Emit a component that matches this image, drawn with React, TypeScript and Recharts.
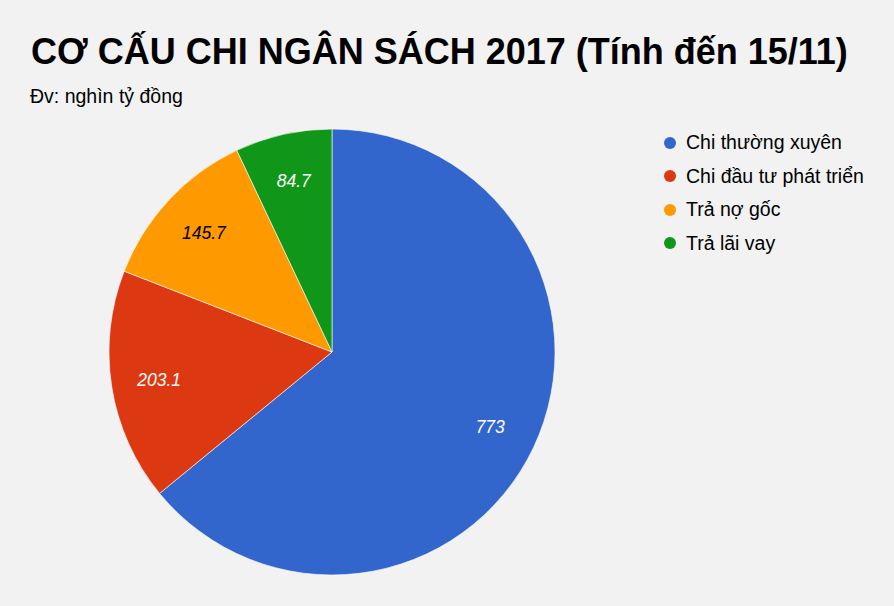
import React from "react";
import { PieChart, Pie, Cell } from "recharts";

const categories = ["Chi thường xuyên", "Chi đầu tư phát triển", "Trả nợ gốc", "Trả lãi vay"];
const values = [773, 203.1, 145.7, 84.7];
const colors = ["#3366cc", "#dc3912", "#ff9900", "#109618"];
const labelColors = ["#ffffff", "#ffffff", "#000000", "#ffffff"];

const data = categories.map((name, i) => ({ name, value: values[i] }));

const RADIAN = Math.PI / 180;

function renderLabel(props: any) {
  const { cx, cy, midAngle, outerRadius, index, value } = props;
  const r = outerRadius * 0.785;
  const x = cx + r * Math.cos(-midAngle * RADIAN);
  const y = cy + r * Math.sin(-midAngle * RADIAN);
  return (
    <text
      x={x}
      y={y}
      fill={labelColors[index]}
      textAnchor="middle"
      dominantBaseline="central"
      fontSize={17.5}
      fontStyle="italic"
      fontFamily="Liberation Sans, Arial, sans-serif"
    >
      {value}
    </text>
  );
}

function LegendBox() {
  return (
    <div
      style={{
        position: "absolute",
        left: 664,
        top: 126,
        fontFamily: "Liberation Sans, Arial, sans-serif",
        fontSize: 19.5,
        color: "#000",
        whiteSpace: "nowrap",
      }}
    >
      {categories.map((c, i) => (
        <div key={c} style={{ display: "flex", alignItems: "center", height: 33.5 }}>
          <span
            style={{
              display: "inline-block",
              width: 12,
              height: 12,
              borderRadius: 6,
              background: colors[i],
              marginRight: 10,
            }}
          />
          <span>{c}</span>
        </div>
      ))}
    </div>
  );
}

export default function App() {
  return (
    <div
      style={{
        position: "absolute",
        left: 0,
        top: 0,
        width: 894,
        height: 606,
        background: "#f2f2f2",
        overflow: "hidden",
      }}
    >
      <div
        style={{
          position: "absolute",
          left: 31,
          top: 30,
          fontFamily: "Liberation Sans, Arial, sans-serif",
          fontWeight: "bold",
          fontSize: 36,
          lineHeight: "44px",
          color: "#000",
          whiteSpace: "nowrap",
        }}
      >
        CƠ CẤU CHI NGÂN SÁCH 2017 (Tính đến 15/11)
      </div>
      <div
        style={{
          position: "absolute",
          left: 30,
          top: 85,
          fontFamily: "Liberation Sans, Arial, sans-serif",
          fontSize: 19.5,
          lineHeight: "22px",
          color: "#000",
          whiteSpace: "nowrap",
        }}
      >
        Đv: nghìn tỷ đồng
      </div>
      <div style={{ position: "absolute", left: 0, top: 0 }}>
        <PieChart width={894} height={606} margin={{ top: 0, right: 0, bottom: 0, left: 0 }}>
          <Pie
            data={data}
            dataKey="value"
            nameKey="name"
            cx={332}
            cy={352}
            outerRadius={223}
            startAngle={90}
            endAngle={-270}
            stroke="#ffffff"
            strokeWidth={0.6}
            label={renderLabel}
            labelLine={false}
            isAnimationActive={false}
          >
            {data.map((d, i) => (
              <Cell key={d.name} fill={colors[i]} />
            ))}
          </Pie>
        </PieChart>
      </div>
      <LegendBox />
    </div>
  );
}
